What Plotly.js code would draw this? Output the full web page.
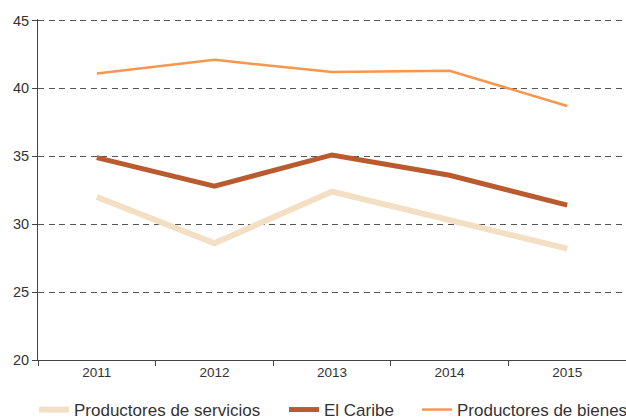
<!DOCTYPE html>
<html>
<head>
<meta charset="utf-8">
<script src="https://cdn.plot.ly/plotly-3.0.1.min.js"></script>
<style>
html,body{margin:0;padding:0;background:#fff;}
#chart{width:626px;height:419px;}
</style>
</head>
<body>
<div id="chart"></div>
<script>
const years = ["2011", "2012", "2013", "2014", "2015"];
const servicios = [32.0, 28.6, 32.4, 30.3, 28.2];
const caribe = [34.9, 32.8, 35.1, 33.6, 31.4];
const bienes = [41.1, 42.1, 41.2, 41.3, 38.7];
const yTicks = [20, 25, 30, 35, 40, 45];

const traces = [
  {x: years, y: servicios, name: "Productores de servicios", type: "scatter", mode: "lines",
   line: {color: "#F3DFC3", width: 6}, legend: "legend"},
  {x: years, y: caribe, name: "El Caribe", type: "scatter", mode: "lines",
   line: {color: "#B95A2F", width: 5}, legend: "legend2"},
  {x: years, y: bienes, name: "Productores de bienes", type: "scatter", mode: "lines",
   line: {color: "#F7964F", width: 2.5}, legend: "legend3"}
];

function leg(px) {
  return {orientation: "h", xref: "container", yref: "container", x: px/626, y: 9/419,
          xanchor: "left", yanchor: "middle", font: {size: 17, color: "#333"}, bgcolor: "rgba(0,0,0,0)"};
}

const layout = {
  width: 626, height: 419,
  margin: {l: 38, r: 0, t: 18.5, b: 59, pad: 0},
  paper_bgcolor: "#fff", plot_bgcolor: "#fff",
  font: {family: "Liberation Sans, Arial, sans-serif", color: "#333", size: 13},
  showlegend: true,
  legend: leg(34),
  legend2: leg(284),
  legend3: leg(417),
  xaxis: {type: "category", range: [-0.5, 4.5], tickson: "boundaries", ticks: "outside", ticklen: 5,
          tickcolor: "#444", showline: true, linecolor: "#444", linewidth: 1, showgrid: false,
          tickfont: {size: 13.5, color: "#333"}, fixedrange: true},
  yaxis: {range: [20, 45.11], tickvals: yTicks, ticks: "outside", ticklen: 5, tickcolor: "#444",
          showline: true, linecolor: "#444", linewidth: 1, showgrid: true, gridcolor: "#555",
          griddash: "6px,4.5px", gridwidth: 1, zeroline: false, tickfont: {size: 14.5, color: "#333"},
          fixedrange: true}
};

Plotly.newPlot("chart", traces, layout, {staticPlot: true});
</script>
</body>
</html>
